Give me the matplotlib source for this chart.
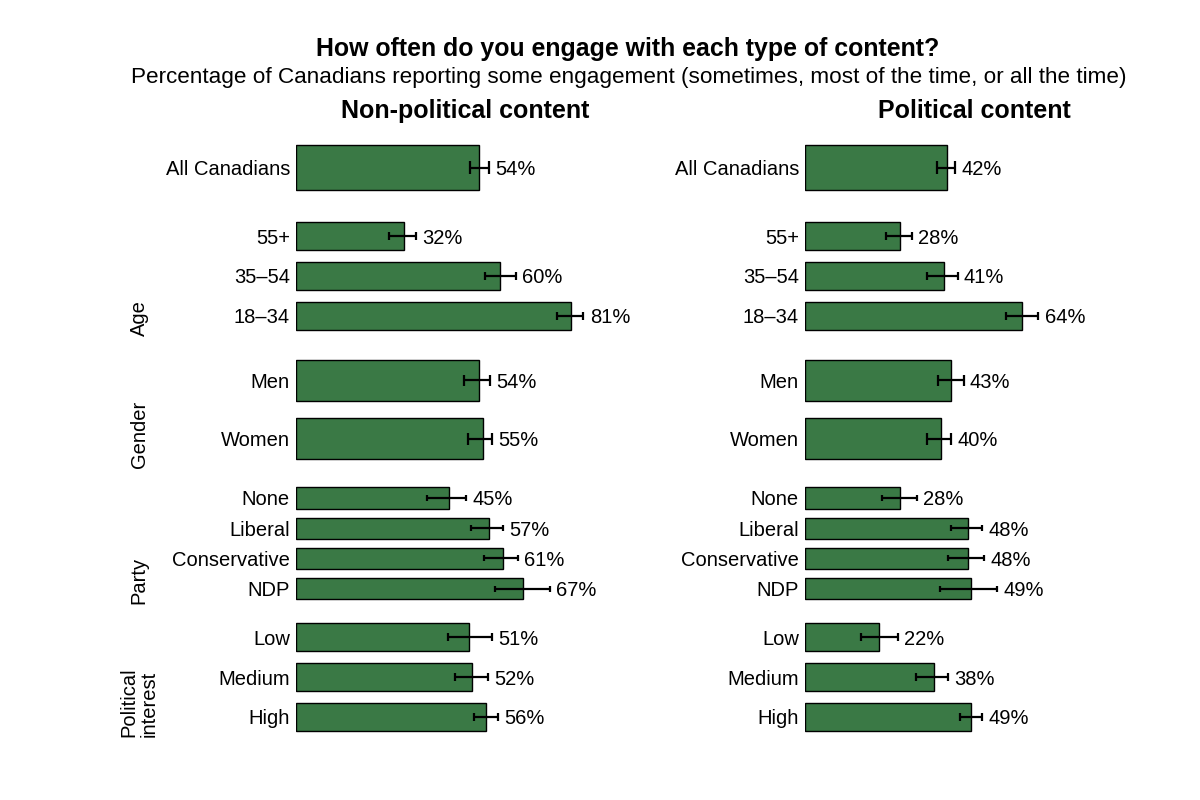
import matplotlib
matplotlib.use("Agg")
import matplotlib.pyplot as plt
import matplotlib.transforms as mtransforms

plt.rcParams['font.family'] = ['Liberation Sans', 'DejaVu Sans']

# categories, grouped top to bottom
group_names = ["", "Age", "Gender", "Party", "Political\ninterest"]
group_cats = [
    ["All Canadians"],
    ["55+", "35–54", "18–34"],
    ["Men", "Women"],
    ["None", "Liberal", "Conservative", "NDP"],
    ["Low", "Medium", "High"],
]

# non-political content (%)
nonpol_val = [54, 32, 60, 81, 54, 55, 45, 57, 61, 67, 51, 52, 56]
nonpol_lo = [51.4, 27.6, 55.8, 77.0, 49.6, 50.7, 38.6, 51.7, 55.3, 58.7, 44.8, 46.8, 52.4]
nonpol_hi = [56.8, 35.4, 64.8, 84.7, 57.1, 57.9, 50.2, 60.9, 65.4, 74.9, 57.8, 56.6, 59.5]

# political content (%)
pol_val = [42, 28, 41, 64, 43, 40, 28, 48, 48, 49, 22, 38, 49]
pol_lo = [38.9, 24.0, 36.1, 59.2, 39.4, 36.1, 22.7, 43.1, 42.2, 39.8, 16.6, 32.9, 45.6]
pol_hi = [44.2, 31.6, 45.0, 68.8, 46.8, 43.2, 33.1, 52.2, 52.9, 56.7, 27.5, 42.1, 52.3]

panels = [
    ("Non-political content", nonpol_val, nonpol_lo, nonpol_hi),
    ("Political content", pol_val, pol_lo, pol_hi),
]

BAR = "#3a7945"
W, H = 1200, 800

# layout in pixels: (top of group, height of one slot)
group_layout = [(135.7, 64.0), (216.3, 39.8), (351.4, 58.2), (482.9, 30.2), (617.5, 39.7)]
panel_left = [295.5, 804.5]
panel_width = 340.0

fig = plt.figure(figsize=(12, 8), dpi=100)

fig.text(628 / W, 1 - 49 / H, "How often do you engage with each type of content?",
         ha="center", va="center", fontsize=17.9, fontweight="bold")
fig.text(629 / W, 1 - 77 / H,
         "Percentage of Canadians reporting some engagement (sometimes, most of the time, or all the time)",
         ha="center", va="center", fontsize=16.2)

for p, (ptitle, vals, los, his) in enumerate(panels):
    x0 = panel_left[p]
    fig.text((x0 + panel_width / 2) / W, 1 - 111 / H, ptitle,
             ha="center", va="center", fontsize=18, fontweight="bold")
    i = 0
    for g, cats in enumerate(group_cats):
        top, slot = group_layout[g]
        n = len(cats)
        h = n * slot
        ax = fig.add_axes([x0 / W, 1 - (top + h) / H, panel_width / W, h / H])
        ax.set_xlim(0, 100)
        ax.set_ylim(n - 0.5, -0.5)
        ax.axis("off")
        ys = list(range(n))
        v = vals[i:i + n]
        lo = los[i:i + n]
        hi = his[i:i + n]
        ax.barh(ys, v, height=0.7, color=BAR, edgecolor="black", linewidth=1.0)
        ax.hlines(ys, lo, hi, color="black", linewidth=1.6)
        for y, a, b, val, cat in zip(ys, lo, hi, v, cats):
            ax.vlines([a, b], y - 0.1, y + 0.1, color="black", linewidth=1.6)
            ax.annotate(f"{val}%", (b, y), xytext=(4.5, 0), textcoords="offset points",
                        ha="left", va="center_baseline", fontsize=14.5, annotation_clip=False)
            ax.annotate(cat, (0, y), xytext=(-4, 0), textcoords="offset points",
                        ha="right", va="center_baseline", fontsize=14.5, annotation_clip=False)
        if p == 0 and group_names[g]:
            trans = mtransforms.blended_transform_factory(fig.transFigure, ax.transAxes)
            ax.text(139 / W, 0, group_names[g], transform=trans, rotation=90,
                    ha="center", va="bottom", fontsize=14.5, linespacing=1.1,
                    multialignment="left")
        i += n

fig.savefig("out.png", dpi=100, facecolor="white")
